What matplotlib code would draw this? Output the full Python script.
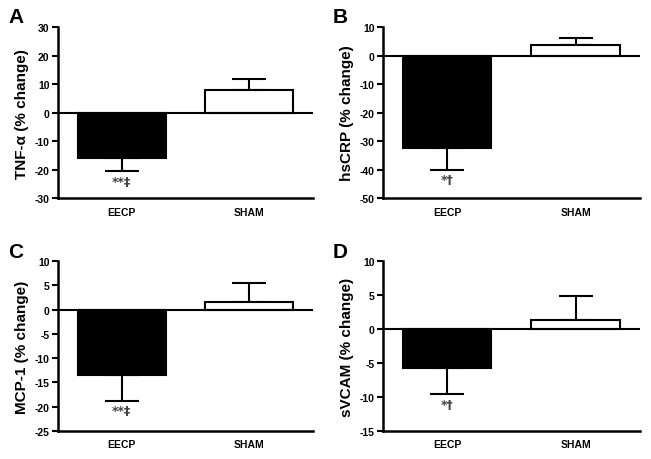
import matplotlib.pyplot as plt

plt.rcParams['font.family'] = ['Liberation Sans', 'DejaVu Sans']
plt.rcParams['font.weight'] = 'bold'
plt.rcParams['axes.unicode_minus'] = False

groups = ['EECP', 'SHAM']

# panel values (mean % change) and SEM
tnf_mean = [-15.8, 7.8]
tnf_err = [4.7, 4.0]
crp_mean = [-32.5, 3.8]
crp_err = [7.5, 2.4]
mcp_mean = [-13.5, 1.5]
mcp_err = [5.3, 4.0]
vcam_mean = [-5.8, 1.3]
vcam_err = [3.8, 3.6]

panels = [
    ('A', 'TNF-\u03b1 (% change)', tnf_mean, tnf_err, (-30, 30), 10, '**\u2021'),
    ('B', 'hsCRP (% change)', crp_mean, crp_err, (-50, 10), 10, '*\u2020'),
    ('C', 'MCP-1 (% change)', mcp_mean, mcp_err, (-25, 10), 5, '**\u2021'),
    ('D', 'sVCAM (% change)', vcam_mean, vcam_err, (-15, 10), 5, '*\u2020'),
]

boxes = [
    [0.089, 0.567, 0.392, 0.372],
    [0.588, 0.567, 0.395, 0.372],
    [0.089, 0.061, 0.392, 0.369],
    [0.588, 0.061, 0.395, 0.369],
]

fig = plt.figure(figsize=(6.51, 4.60), dpi=100)

for box, (letter, ylabel, mean, err, ylim, step, mark) in zip(boxes, panels):
    ax = fig.add_axes(box)
    x = [0, 1]
    colors = ['black', 'white']
    ax.bar(x, mean, width=0.69, color=colors, edgecolor='black', linewidth=1.5, zorder=2)
    for xi, m, e in zip(x, mean, err):
        lo = [e] if m < 0 else [0]
        hi = [0] if m < 0 else [e]
        ax.errorbar([xi], [m], yerr=[lo, hi], fmt='none', ecolor='black',
                    elinewidth=1.5, capsize=12, capthick=1.5, zorder=1)
    ax.axhline(0, color='black', linewidth=1.5, zorder=3)
    ax.text(0, mean[0] - err[0] - (ylim[1] - ylim[0]) * 0.02, mark,
            ha='center', va='top', fontsize=9, color='#444444',
            family='DejaVu Sans')
    ax.set_xlim(-0.5, 1.5)
    ax.set_ylim(*ylim)
    ax.set_yticks(range(ylim[0], ylim[1] + 1, step))
    ax.set_xticks(x)
    ax.set_xticklabels(groups)
    ax.tick_params(axis='x', length=0, labelsize=7.5, pad=6)
    ax.tick_params(axis='y', length=4, width=1.5, labelsize=7.5, pad=2)
    ax.spines['top'].set_visible(False)
    ax.spines['right'].set_visible(False)
    ax.spines['left'].set_linewidth(1.8)
    ax.spines['bottom'].set_linewidth(1.8)
    ax.set_ylabel(ylabel, fontsize=11, fontweight='bold', labelpad=4)
    ax.text(-0.195, 1.06, letter, transform=ax.transAxes, fontsize=15,
            fontweight='bold', ha='left', va='center')

fig.savefig('out.png', dpi=100)
